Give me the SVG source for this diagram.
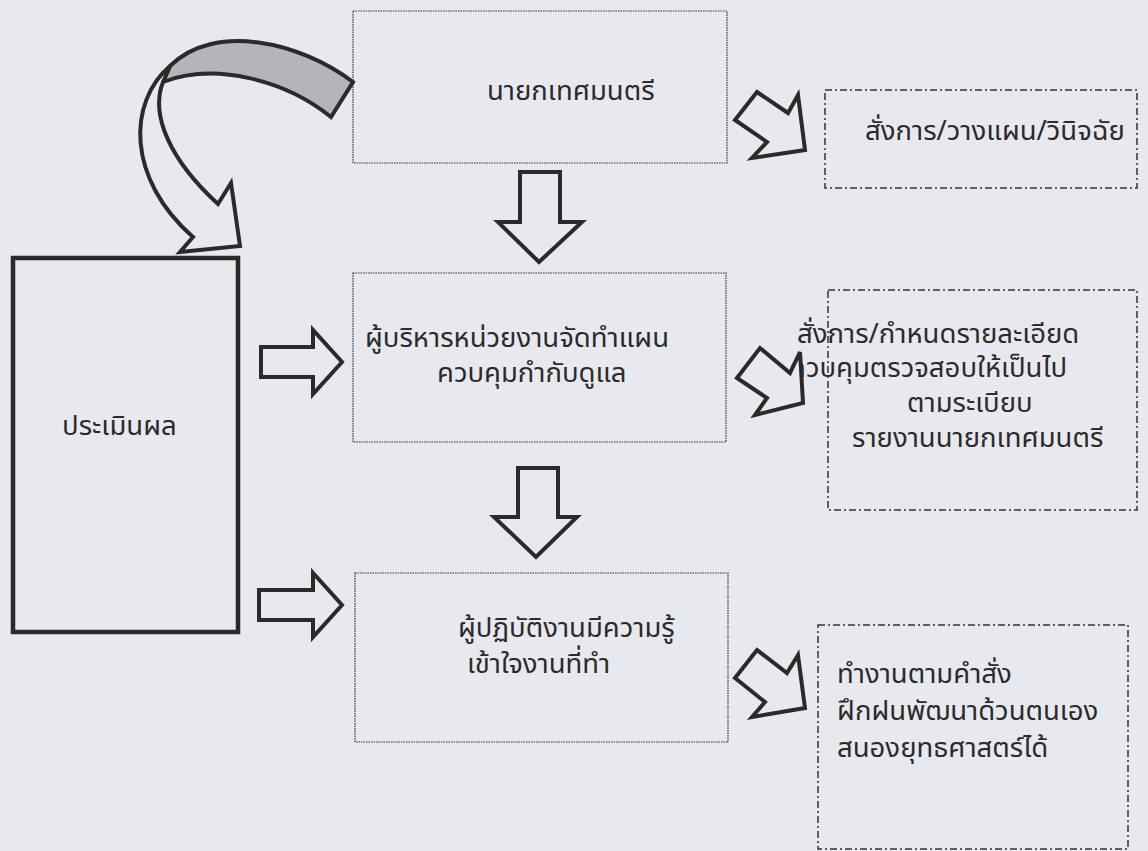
<svg xmlns="http://www.w3.org/2000/svg" width="1148" height="851" viewBox="0 0 1148 851">
<style>
.bg{fill:#e8e9ee}
.dot{fill:none;stroke:#333;stroke-width:1.2;stroke-dasharray:1.5 1}
.dd{fill:none;stroke:#333;stroke-width:1.5;stroke-dasharray:7 3 2 3}
.blk{fill:#e8e9ee;stroke:#2a2a2a;stroke-width:4;stroke-linejoin:miter}
.t{font-family:"Noto Sans Thai","Noto Sans","DejaVu Sans",sans-serif;font-size:27.5px;fill:#2b2b2b}
</style>
<rect class="bg" x="0" y="0" width="1148" height="851"/>

<g id="node-mayor">
<rect class="dot" x="353" y="11" width="374" height="152"/>
<text class="t" x="487" y="100">นายกเทศมนตรี</text>
</g>

<g id="node-admin">
<rect class="dot" x="353" y="273" width="373" height="169"/>
<text class="t" x="365" y="347">ผู้บริหารหน่วยงานจัดทำแผน</text>
<text class="t" x="437" y="382">ควบคุมกำกับดูแล</text>
</g>

<g id="node-worker">
<rect class="dot" x="355" y="573" width="373" height="169"/>
<text class="t" x="458" y="637">ผู้ปฏิบัติงานมีความรู้</text>
<text class="t" x="467" y="673">เข้าใจงานที่ทำ</text>
</g>

<g id="node-eval">
<rect fill="#e8e9ee" stroke="#2a2a2a" stroke-width="4.5" x="13" y="258" width="225" height="374"/>
<text class="t" x="62" y="435">ประเมินผล</text>
</g>

<g id="note-1">
<rect class="dd" x="825" y="90" width="312" height="98"/>
<text class="t" x="865" y="140">สั่งการ/วางแผน/วินิจฉัย</text>
</g>

<g id="note-2">
<rect class="dd" x="828" y="290" width="309" height="220"/>
<text class="t" x="797" y="343">สั่งการ/กำหนดรายละเอียด</text>
<text class="t" x="789" y="377">ควบคุมตรวจสอบให้เป็นไป</text>
<text class="t" x="907" y="412">ตามระเบียบ</text>
<text class="t" x="852" y="447">รายงานนายกเทศมนตรี</text>
</g>

<g id="note-3">
<path class="dd" d="M818,625 H1128 V849 H818 Z"/>
<text class="t" x="837" y="683">ทำงานตามคำสั่ง</text>
<text class="t" x="837" y="720">ฝึกฝนพัฒนาด้วนตนเอง</text>
<text class="t" x="837" y="757">สนองยุทธศาสตร์ได้</text>
</g>

<g id="connectors">
<!-- curved feedback arrow -->
<path d="M353,82 C300,42 215,22 170,66 L163,82 C215,62 285,80 331,117 Z" fill="#b3b5ba" stroke="#2a2a2a" stroke-width="4" stroke-linejoin="miter"/>
<path class="blk" d="M170,66 C128,102 126,178 193,237 L180,252 L240,246 L231,183 L218,204 C170,160 150,115 163,82 Z"/>
<!-- down arrows -->
<path class="blk" d="M520,172 H560 V222 H582 L539,262 L498,222 H520 Z"/>
<path class="blk" d="M518,468 H558 V517 H577 L536,557 L494,517 H518 Z"/>
<!-- right arrows -->
<path class="blk" d="M261,347 H313 V330 L342,362 L313,394 V377 H261 Z"/>
<path class="blk" d="M259,590 H313 V573 L342,605 L313,637 V620 H259 Z"/>
<!-- diagonal arrows -->
<path class="blk" d="M735,120 L757,92 L788,113 L798,95 L805,150 L752,158 L767,142 Z"/>
<path class="blk" d="M737,378 L760,348 L790,373 L800,352 L803,403 L755,415 L767,398 Z"/>
<path class="blk" d="M735,678 L757,650 L787,673 L798,655 L805,708 L752,717 L765,702 Z"/>
</g>
</svg>
